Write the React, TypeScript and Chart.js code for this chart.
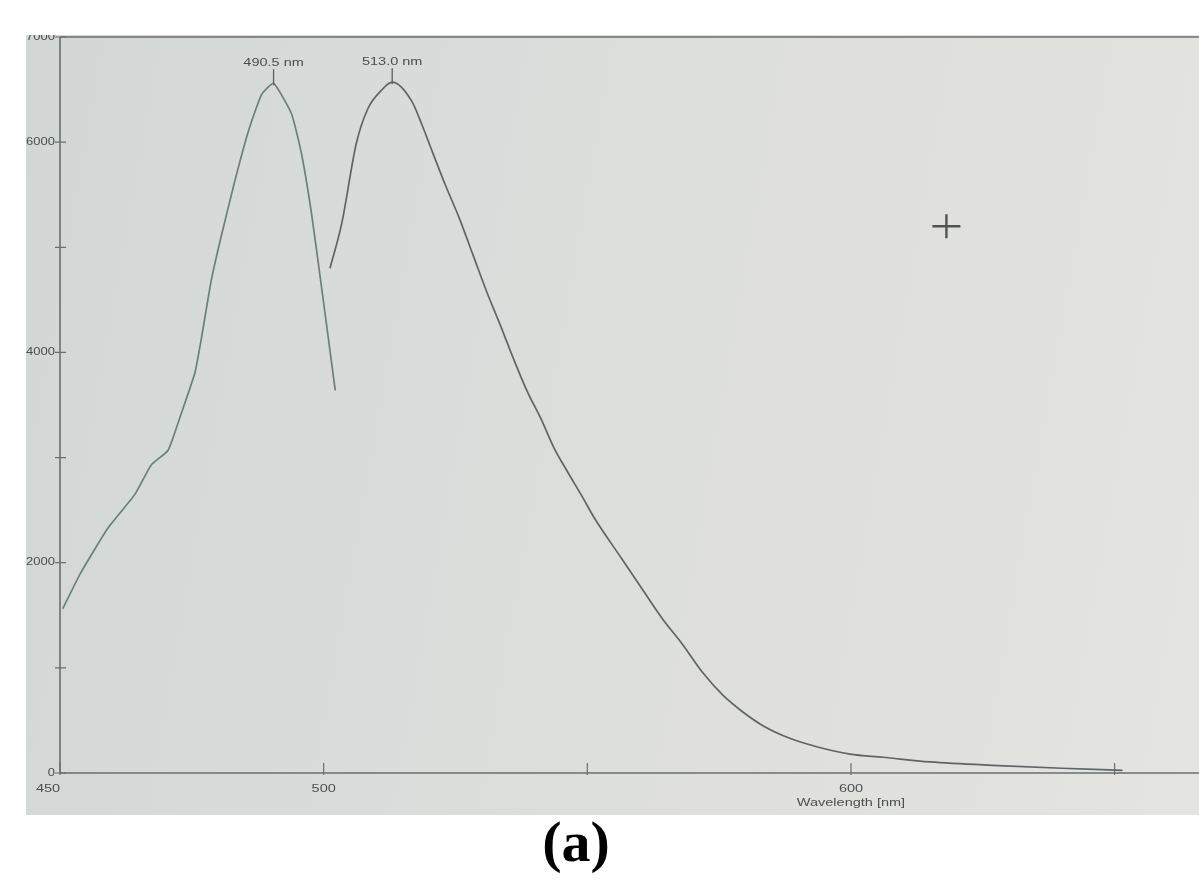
import React, { useEffect, useRef } from "react";
import { Chart, registerables } from "chart.js";

Chart.register(...registerables);

// Excitation scan (left curve)
const excitationWavelength = [450.5, 454, 459.1, 464.2, 467.3, 470.5, 473, 475.6, 476.8, 478.7, 480.6, 483.2, 485.7, 488.2, 490.5, 493.9, 495.8, 497.7, 499.6, 500.9, 502.2];
const excitationIntensity = [1560, 1910, 2330, 2650, 2930, 3070, 3420, 3810, 4130, 4690, 5110, 5640, 6100, 6450, 6560, 6270, 5890, 5320, 4620, 4130, 3640];

// Emission scan (right curve)
const emissionWavelength = [501.2, 503.4, 506.2, 508.4, 510.9, 513.0, 516.7, 518.6, 520.6, 523.1, 525.7, 528.3, 530.9, 533.5, 536.0, 538.6, 541.2, 543.7, 546.3, 548.9, 551.4, 556.5, 560.4, 564.2, 568.1, 571.8, 575.7, 579.5, 583.3, 588.4, 593.5, 599.8, 606.1, 615, 628, 640, 651.5];
const emissionIntensity = [4800, 5220, 5990, 6320, 6490, 6570, 6390, 6170, 5910, 5590, 5280, 4930, 4580, 4260, 3940, 3630, 3370, 3090, 2860, 2640, 2420, 2040, 1750, 1470, 1220, 960, 740, 580, 450, 330, 250, 180, 150, 105, 70, 45, 25];

// Axis setup
const xRange = [450, 666];
const yRange = [0, 7000];
const xTickValues = [450, 500, 550, 600, 650];
const xLabelValues = [450, 500, 600];
const yTickValues = [0, 1000, 2000, 3000, 4000, 5000, 6000, 7000];
const yLabelValues = [0, 2000, 4000, 6000, 7000];
const xTitle = "Wavelength [nm]";

// Cross-hair cursor position (wavelength, intensity)
const cursorPoint = { x: 618.1, y: 5200 };

const TEXT_FONT = '10px "Liberation Sans", Arial, sans-serif';
const TEXT_COLOR = "#4a4f50";
const AXIS_COLOR = "#6a6f6f";
const STRETCH = 1.45;
const PANEL_LEFT = 26;

function wideText(ctx: CanvasRenderingContext2D, text: string, x: number, y: number, align: CanvasTextAlign, stretch = STRETCH) {
  ctx.save();
  ctx.translate(x, y);
  ctx.scale(stretch, 1);
  ctx.textAlign = align;
  ctx.textBaseline = "middle";
  ctx.fillText(text, 0, 0);
  ctx.restore();
}

const spectrumFrame = {
  id: "spectrumFrame",
  beforeDatasetsDraw(chart: any) {
    const { ctx, chartArea, scales } = chart;
    const { left, right, top, bottom } = chartArea;
    const xs = scales.x;
    const ys = scales.y;
    ctx.save();
    ctx.strokeStyle = AXIS_COLOR;
    ctx.lineWidth = 1.6;
    ctx.beginPath();
    ctx.moveTo(left, top);
    ctx.lineTo(right, top);
    ctx.moveTo(left, top);
    ctx.lineTo(left, bottom);
    ctx.lineTo(right, bottom);
    ctx.stroke();

    ctx.lineWidth = 1.2;
    ctx.beginPath();
    for (const v of yTickValues) {
      const py = ys.getPixelForValue(v);
      ctx.moveTo(left - 5, py);
      ctx.lineTo(left + 6, py);
    }
    for (const v of xTickValues) {
      const px = xs.getPixelForValue(v);
      ctx.moveTo(px, bottom + 2);
      ctx.lineTo(px, bottom - 10);
    }
    ctx.stroke();
    ctx.restore();
  },
  afterDatasetsDraw(chart: any) {
    const { ctx, chartArea, scales } = chart;
    const { left, bottom } = chartArea;
    const xs = scales.x;
    const ys = scales.y;
    ctx.save();
    ctx.font = TEXT_FONT;
    ctx.fillStyle = TEXT_COLOR;

    for (const v of yLabelValues) {
      wideText(ctx, String(v), left - 5, ys.getPixelForValue(v), "right", 1.3);
    }
    xLabelValues.forEach((v, i) => {
      const px = xs.getPixelForValue(v);
      wideText(ctx, String(v), i === 0 ? px - 12 : px, bottom + 16, "center");
    });
    wideText(ctx, xTitle, xs.getPixelForValue(600), bottom + 30, "center");

    // Peak markers with their wavelength
    chart.data.datasets.forEach((ds: any) => {
      let best = ds.data[0];
      for (const p of ds.data) if (p.y > best.y) best = p;
      const px = xs.getPixelForValue(best.x);
      const py = ys.getPixelForValue(best.y);
      ctx.strokeStyle = "#5a5f60";
      ctx.lineWidth = 1.3;
      ctx.beginPath();
      ctx.moveTo(px, py - 14);
      ctx.lineTo(px, py + 2);
      ctx.stroke();
      ctx.fillStyle = TEXT_COLOR;
      wideText(ctx, `${best.x.toFixed(1)} nm`, px, py - 20, "center");
    });

    // Cross-hair cursor
    const cx = xs.getPixelForValue(cursorPoint.x);
    const cy = ys.getPixelForValue(cursorPoint.y);
    ctx.strokeStyle = "#4f5354";
    ctx.lineWidth = 2.4;
    ctx.beginPath();
    ctx.moveTo(cx - 14, cy);
    ctx.lineTo(cx + 14, cy);
    ctx.moveTo(cx, cy - 12);
    ctx.lineTo(cx, cy + 12);
    ctx.stroke();
    ctx.restore();
  },
};

export default function App() {
  const canvasRef = useRef<HTMLCanvasElement | null>(null);

  useEffect(() => {
    const canvas = canvasRef.current;
    if (!canvas) return;
    const chart = new Chart(canvas, {
      type: "line",
      data: {
        datasets: [
          {
            label: "Excitation",
            data: excitationWavelength.map((x, i) => ({ x, y: excitationIntensity[i] })),
            borderColor: "#6a807a",
            borderWidth: 1.7,
            pointRadius: 0,
            tension: 0.15,
            fill: false,
          },
          {
            label: "Emission",
            data: emissionWavelength.map((x, i) => ({ x, y: emissionIntensity[i] })),
            borderColor: "#5f6566",
            borderWidth: 1.7,
            pointRadius: 0,
            cubicInterpolationMode: "monotone",
            fill: false,
          },
        ],
      },
      options: {
        animation: false,
        responsive: false,
        events: [],
        layout: { padding: { left: 60 - PANEL_LEFT, right: 0, top: 2, bottom: 42 } },
        plugins: {
          legend: { display: false },
          tooltip: { enabled: false },
        },
        scales: {
          x: { type: "linear", display: false, min: xRange[0], max: xRange[1] },
          y: { type: "linear", display: false, min: yRange[0], max: yRange[1] },
        },
      },
      plugins: [spectrumFrame],
    });
    return () => chart.destroy();
  }, []);

  return (
    <div style={{ position: "fixed", left: 0, top: 0, width: 1199, height: 879, background: "#ffffff", overflow: "hidden" }}>
      <div
        style={{
          position: "absolute",
          left: PANEL_LEFT,
          top: 35,
          width: 1199 - PANEL_LEFT,
          height: 780,
          background: "linear-gradient(100deg, #d2d7d5 0%, #d9dcda 35%, #dfe0dd 65%, #e4e4e0 100%)",
        }}
      >
        <canvas ref={canvasRef} width={1199 - PANEL_LEFT} height={780} style={{ display: "block" }} />
      </div>
      <div
        style={{
          position: "absolute",
          left: 576,
          top: 813,
          transform: "translateX(-50%)",
          font: 'bold 58px "Liberation Serif", "Times New Roman", serif',
          lineHeight: 1,
          color: "#000",
          whiteSpace: "nowrap",
        }}
      >
        (a)
      </div>
    </div>
  );
}
